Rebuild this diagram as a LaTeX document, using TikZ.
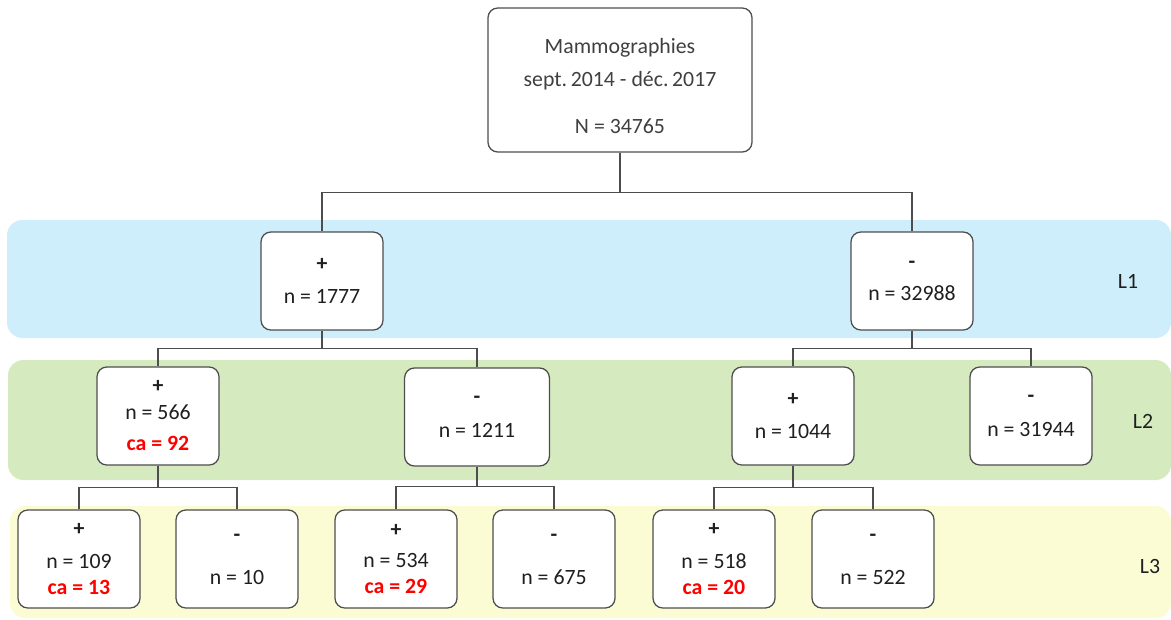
\documentclass[tikz,border=0pt]{standalone}
\usepackage{fontspec}
\setmainfont{Carlito}
\usetikzlibrary{positioning}
\definecolor{BandBlue}{HTML}{CDEEFA}
\definecolor{BandGreen}{HTML}{D5EBBF}
\definecolor{BandYellow}{HTML}{FCFCD4}
\definecolor{BoxLine}{HTML}{4D4D4D}
\definecolor{TextGray}{HTML}{404040}
\definecolor{CaRed}{HTML}{FF0000}
\newcommand{\carate}[1]{\textcolor{CaRed}{\textbf{ca = #1}}}

\begin{document}
\begin{tikzpicture}[x=0.025cm,y=-0.025cm,
  box/.style={draw=BoxLine,line width=0.9pt,fill=white,rounded corners=7pt,
    minimum width=3.05cm,minimum height=2.45cm,align=center,
    font=\fontsize{15.5}{18.5}\selectfont,text=black!88},
  band/.style={rounded corners=11pt},
  link/.style={draw=BoxLine,line width=0.9pt},
  tag/.style={font=\fontsize{15.5}{18.5}\selectfont,text=black!88}]
  \useasboundingbox (0,0) rectangle (1171,619);
  % bands
  \fill[band,BandBlue] (7,220) rectangle (1171,338);
  \fill[band,BandGreen] (8,360) rectangle (1171,480);
  \fill[band,BandYellow] (10,506) rectangle (1171,618);
  \node[tag] (l1) at (1128,281) {L1};
  \node[tag] (l2) at (1143,421) {L2};
  \node[tag] (l3) at (1150,566) {L3};
  % root
  \node[box,minimum width=6.6cm,minimum height=3.6cm,text=TextGray] (root) at (620,80)
    {\rule{0pt}{20pt}Mammographies\\[4.3pt] sept.\,2014 - déc.\,2017\\[15.6pt] N = 34765};
  % L1
  \node[box] (p) at (322,281) {\textbf{+}\\[4.6pt] n = 1777};
  \node[box] (m) at (912,281) {\textbf{-}\\[4.6pt] n = 32988};
  % L2
  \node[box] (pp) at (158,416) {\textbf{+}\\[0.7pt] n = 566\\[3.5pt] \carate{92}};
  \node[box,minimum width=3.62cm] (pm) at (477,417) {\textbf{-}\\[5.4pt] n = 1211};
  \node[box] (mp) at (793,416) {\textbf{+}\\[5.4pt] n = 1044};
  \node[box] (mm) at (1031,416) {\textbf{-}\\[5.4pt] n = 31944};
  % L3
  \node[box] (ppp) at (79,559) {\textbf{+}\\[5pt] n = 109\\[0pt] \carate{13}};
  \node[box] (ppm) at (237,559) {\textbf{-}\\[12pt] n = 10};
  \node[box] (pmp) at (396,559) {\textbf{+}\\[3pt] n = 534\\[0pt] \carate{29}};
  \node[box] (pmm) at (554,559) {\textbf{-}\\[12pt] n = 675};
  \node[box] (mpp) at (714,559) {\textbf{+}\\[5pt] n = 518\\[0pt] \carate{20}};
  \node[box] (mpm) at (873,559) {\textbf{-}\\[12pt] n = 522};
  % connectors
  \draw[link] (root.south) -- ++(0,40) -| (p.north);
  \draw[link] (root.south) -- ++(0,40) -| (m.north);
  \draw[link] (p.south) -- ++(0,18) -| (pp.north);
  \draw[link] (p.south) -- ++(0,18) -| (pm.north);
  \draw[link] (m.south) -- ++(0,18) -| (mp.north);
  \draw[link] (m.south) -- ++(0,18) -| (mm.north);
  \draw[link] (pp.south) -- ++(0,22) -| (ppp.north);
  \draw[link] (pp.south) -- ++(0,22) -| (ppm.north);
  \draw[link] (pm.south) -- ++(0,20) -| (pmp.north);
  \draw[link] (pm.south) -- ++(0,20) -| (pmm.north);
  \draw[link] (mp.south) -- ++(0,22) -| (mpp.north);
  \draw[link] (mp.south) -- ++(0,22) -| (mpm.north);
\end{tikzpicture}
\end{document}
